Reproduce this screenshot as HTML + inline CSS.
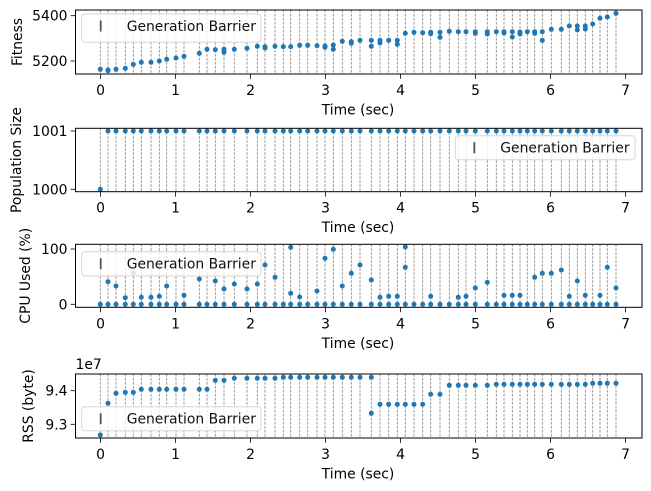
<!DOCTYPE html>
<html><head><meta charset="utf-8"><style>
body{margin:0;background:#fff}
svg{display:block;font-family:"DejaVu Sans","Liberation Sans",sans-serif}
</style></head><body>
<svg id="s" width="651" height="491" viewBox="0 0 651 491" xmlns="http://www.w3.org/2000/svg"></svg>
<script>
const S=document.getElementById('s');let h='';
const L=75.5,R=642,X0=100.5,PX=75;
const gx=[100.3,108,116,125.3,133.3,141.3,151,159.3,166.7,176,184,199.3,207,215.3,224,234.3,247,257.3,265,275,283.3,290.7,299.7,307.7,317,325,333.3,342.3,351.3,360,371.3,380,388.7,397.3,405.3,414,422.7,430.7,440,449.3,458.3,466,475.3,487.3,496.3,504,512.3,520,527.3,534.7,542.3,551.3,561.3,569.3,577.3,585.3,592.7,600,607.3,616];
const C='#1f77b4';
function dot(x,y){h+=`<circle cx="${x}" cy="${y}" r="2.5" fill="${C}"/>`;}
function panel(t,b,yt,ylab,ylx,legend,pts){
  gx.forEach(x=>h+=`<line x1="${x}" y1="${t}" x2="${x}" y2="${b}" stroke="#808080" stroke-width="0.8" stroke-dasharray="2.6,1.4"/>`);
  pts();
  if(legend){const[lx,ly,lx2,ly2]=legend;
    h+=`<rect x="${lx}" y="${ly}" width="${lx2-lx}" height="${ly2-ly}" rx="3" fill="rgba(255,255,255,0.8)" stroke="#d6d6d6" stroke-width="1"/>`;
    h+=`<line x1="${lx+19}" y1="${ly+6.5}" x2="${lx+19}" y2="${ly+17.5}" stroke="#555" stroke-width="1.8"/>`;
    h+=`<text x="${lx+45}" y="${ly+17}" font-size="13.9" fill="#111">Generation Barrier</text>`;}
  h+=`<rect x="${L}" y="${t}" width="${R-L}" height="${b-t}" fill="none" stroke="#000" stroke-width="1"/>`;
  for(let i=0;i<=7;i++){const x=X0+i*PX;h+=`<line x1="${x}" y1="${b}" x2="${x}" y2="${b+4.9}" stroke="#000" stroke-width="0.8"/><text x="${x}" y="${b+21}" font-size="13.9" text-anchor="middle">${i}</text>`;}
  h+=`<text x="358" y="${b+40.5}" font-size="13.9" text-anchor="middle">Time (sec)</text>`;
  yt.forEach(([y,s])=>h+=`<line x1="${L}" y1="${y}" x2="${L-4.9}" y2="${y}" stroke="#000" stroke-width="0.8"/><text x="${L-8}" y="${y+5}" font-size="13.9" text-anchor="end">${s}</text>`);
  const yc=(t+b)/2;h+=`<text transform="translate(${ylx+5},${yc}) rotate(-90)" font-size="13.9" text-anchor="middle">${ylab}</text>`;
}
const fit=[[100.3,69.3],[108,70],[108,70.7],[116,69.3],[125.3,68.3],[133.3,64.3],[141.3,62.3],[151,62.3],[159.3,61],[166.7,59.3],[176,58],[184,56.3],[199.3,53.3],[207,49.3],[215.3,49.7],[224,49.3],[224,52.3],[234.3,49.3],[247,48.3],[257.3,46.3],[265,46.7],[265,48],[275,46.3],[283.3,46.7],[290.7,46.7],[299.7,45.3],[307.7,45.3],[317,45.7],[325,46],[325,47.3],[333.3,45],[333.3,49.3],[342.3,41.3],[351.3,41.7],[351.3,43.3],[360,40.3],[371.3,40.3],[371.3,46.3],[380,40.3],[380,43],[388.7,40.3],[397.3,40.3],[397.3,44.3],[405.3,33.3],[414,32.3],[422.7,32.7],[430.7,32.3],[430.7,33.7],[440,32.3],[440,37.3],[449.3,31.3],[458.3,31.7],[466,31.7],[475.3,31.7],[475.3,33.3],[487.3,31.7],[487.3,34],[496.3,31.7],[504,31.7],[504,33],[512.3,31.7],[512.3,37],[520,32],[520,34],[527.3,31.7],[534.7,31.7],[534.7,33.3],[542.3,31.7],[542.3,40.3],[551.3,29.3],[561.3,29.3],[569.3,26],[577.3,26],[577.3,30],[585.3,26],[585.3,29],[592.7,24],[600,18.3],[607.3,17],[616,13.3]];
panel(10,74,[[15.7,'5400'],[61,'5200']],'Fitness',17,[81.7,14,261,42.3],()=>fit.forEach(p=>dot(p[0],p[1])));
panel(128.3,191.7,[[131,'1001'],[189.3,'1000']],'Population Size',16,[455.3,135.7,635,159.7],()=>gx.forEach((x,i)=>dot(x,i?131:189.3)));
const cpu=[[108,281.7],[116,286],[125.3,297.7],[133.3,273],[141.3,297.3],[151,297.3],[159.3,296.3],[166.7,286],[184,295.3],[199.3,279],[215.3,281],[224,289],[234.3,284],[247,289],[257.3,284],[265,265],[275,277.3],[290.7,247.3],[290.7,293.3],[299.7,297],[317,291],[325,258.3],[333.3,249.3],[342.3,286],[351.3,273.3],[360,265],[371.3,280],[380,297.3],[388.7,296.3],[397.3,296.3],[405.3,247],[405.3,267.3],[430.7,296.3],[458.3,297.3],[466,296.3],[475.3,288],[487.3,282.3],[504,295.3],[512.3,295.3],[520,295.3],[534.7,277.3],[542.3,273.3],[551.3,273.3],[561.3,270],[569.3,296.3],[577.3,281],[585.3,295.3],[600,295.3],[607.3,267.3],[616,288]];
panel(244.3,307.3,[[249,'100'],[304.3,'0']],'CPU Used (%)',25,[81.7,251.7,261,276],()=>{gx.forEach(x=>dot(x,304.3));cpu.forEach(p=>dot(p[0],p[1]));});
const rssY=[435,403.3,393.3,392.3,392.3,389.3,389.3,389.3,389.3,389.3,389.3,389.3,389.3,380.3,380.3,378.3,378.3,378.3,378.3,378.3,377.3,377.3,377.3,377.3,377.3,377.3,377.3,377.3,377.3,377.3,377.3,404.3,404.3,404.3,404.3,404.3,404.3,394.3,394.3,385.3,385.3,385.3,385.3,385.3,384.3,384.3,384.3,384.3,384.3,384.3,384.3,384.3,384.3,384.3,384.3,384.3,383.3,383.3,383.3,383.3];
panel(374,438,[[390.7,'9.4'],[424.3,'9.3']],'RSS (byte)',28,[81.7,406.7,261,430.7],()=>{gx.forEach((x,i)=>dot(x,rssY[i]));dot(371.3,413.3);});
h+=`<text x="75.5" y="369" font-size="13.9">1e7</text>`;
S.innerHTML=h;
</script>
</body></html>
